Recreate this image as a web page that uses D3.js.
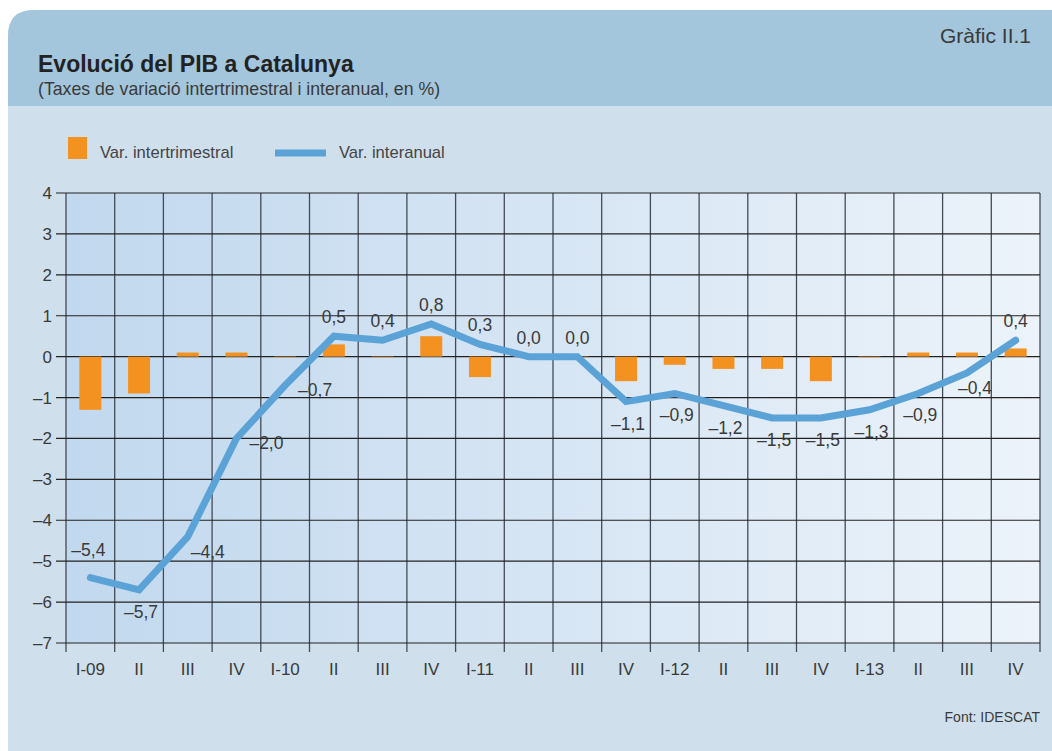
<!DOCTYPE html>
<html>
<head>
<meta charset="utf-8">
<script src="https://cdn.jsdelivr.net/npm/d3@7"></script>
<style>
  body { margin: 0; background: #fff; }
  svg { display: block; font-family: "Liberation Sans", Arial, sans-serif; }
</style>
</head>
<body>
<svg id="chart" width="1052" height="751"></svg>
<script>
// quarters shown on the x axis
const quarters = ["I-09","II","III","IV","I-10","II","III","IV","I-11","II","III","IV",
                  "I-12","II","III","IV","I-13","II","III","IV"];
// quarter on quarter change (bars)
const varIntertrimestral = [-1.3,-0.9,0.1,0.1,0.0,0.3,0.0,0.5,-0.5,0.0,0.0,-0.6,
                            -0.2,-0.3,-0.3,-0.6,0.0,0.1,0.1,0.2];
// year on year change (line)
const varInteranual = [-5.4,-5.7,-4.4,-2.0,-0.7,0.5,0.4,0.8,0.3,0.0,0.0,-1.1,
                       -0.9,-1.2,-1.5,-1.5,-1.3,-0.9,-0.4,0.4];
const yTicks = [4,3,2,1,0,-1,-2,-3,-4,-5,-6,-7];

// where each line label sits relative to its point
const labelSide = ["upfar","down","rightlow","right","right","up","up","up","up","up","up","down",
                   "down","down","down","down","down","down","downright","up"];

const svg = d3.select("#chart");
const margin = { left: 66, right: 1040, top: 193, bottom: 643 };
const textCol = "#3a3a3a";

// panel background
svg.append("path")
   .attr("d", "M8,36 Q8,10 34,10 L1052,10 L1052,751 L8,751 Z")
   .attr("fill", "#cfe0ec");
svg.append("path")
   .attr("d", "M8,106 L8,36 Q8,10 34,10 L1052,10 L1052,106 Z")
   .attr("fill", "#a3c6dc");

svg.append("text").attr("x", 1031).attr("y", 43).attr("text-anchor", "end")
   .attr("font-size", 21).attr("fill", textCol).text("Gràfic II.1");
svg.append("text").attr("x", 38).attr("y", 72)
   .attr("font-size", 23).attr("font-weight", "bold").attr("fill", "#222")
   .text("Evolució del PIB a Catalunya");
svg.append("text").attr("x", 38).attr("y", 95)
   .attr("font-size", 17.7).attr("fill", textCol)
   .text("(Taxes de variació intertrimestral i interanual, en %)");

// legend
svg.append("rect").attr("x", 68).attr("y", 137).attr("width", 19).attr("height", 22).attr("fill", "#f39220");
svg.append("text").attr("x", 100).attr("y", 158).attr("font-size", 16.6).attr("fill", "#444").text("Var. intertrimestral");
svg.append("line").attr("x1", 275).attr("x2", 326).attr("y1", 153).attr("y2", 153)
   .attr("stroke", "#5ba3d6").attr("stroke-width", 7);
svg.append("text").attr("x", 339).attr("y", 158).attr("font-size", 16.6).attr("fill", "#444").text("Var. interanual");

const x = d3.scaleBand()
            .domain(d3.range(quarters.length))
            .range([margin.left, margin.right])
            .paddingInner(0).paddingOuter(0);
const y = d3.scaleLinear().domain([-7, 4]).range([margin.bottom, margin.top]);

// plot gradient
const grad = svg.append("defs").append("linearGradient").attr("id", "bg")
                .attr("x1", "0%").attr("x2", "100%").attr("y1", "0%").attr("y2", "0%");
grad.append("stop").attr("offset", "0%").attr("stop-color", "#c1d8ee");
grad.append("stop").attr("offset", "100%").attr("stop-color", "#ecf3fa");
svg.append("rect")
   .attr("x", margin.left).attr("y", margin.top)
   .attr("width", margin.right - margin.left).attr("height", margin.bottom - margin.top)
   .attr("fill", "url(#bg)");

// vertical grid
svg.append("g").selectAll("line")
   .data(d3.range(quarters.length + 1))
   .enter().append("line")
   .attr("x1", i => i < quarters.length ? x(i) : margin.right)
   .attr("x2", i => i < quarters.length ? x(i) : margin.right)
   .attr("y1", margin.top).attr("y2", margin.bottom + 9)
   .attr("stroke", "#454b55").attr("stroke-width", 1.3);

// horizontal grid + y axis
svg.append("g").selectAll("line")
   .data(yTicks)
   .enter().append("line")
   .attr("x1", margin.left - 10).attr("x2", margin.right)
   .attr("y1", d => y(d)).attr("y2", d => y(d))
   .attr("stroke", "#222").attr("stroke-width", 1.2);

svg.append("g").selectAll("text")
   .data(yTicks)
   .enter().append("text")
   .attr("x", 52).attr("y", d => y(d) + 6)
   .attr("text-anchor", "end").attr("font-size", 17).attr("fill", textCol)
   .text(d => d < 0 ? "\u2013" + Math.abs(d) : d);

// x labels
svg.append("g").selectAll("text")
   .data(quarters)
   .enter().append("text")
   .attr("x", (d, i) => x(i) + x.bandwidth() / 2)
   .attr("y", 675)
   .attr("text-anchor", "middle").attr("font-size", 17).attr("fill", textCol)
   .text(d => d);

// bars
const bw = 22;
svg.append("g").selectAll("rect")
   .data(varIntertrimestral)
   .enter().append("rect")
   .attr("x", (d, i) => x(i) + x.bandwidth() / 2 - bw / 2)
   .attr("y", d => y(Math.max(0, d)))
   .attr("width", bw)
   .attr("height", d => Math.max(0.6, Math.abs(y(d) - y(0))))
   .attr("fill", "#f39220");

// line
const line = d3.line()
               .x((d, i) => x(i) + x.bandwidth() / 2)
               .y(d => y(d));
svg.append("path")
   .datum(varInteranual)
   .attr("d", line)
   .attr("fill", "none")
   .attr("stroke", "#5ba3d6")
   .attr("stroke-width", 7)
   .attr("stroke-linecap", "round");

const fmt = v => (v < 0 ? "\u2013" : "") + Math.abs(v).toFixed(1).replace(".", ",");
const off = {
  up: [0, -13], upfar: [-2, -22], down: [2, 28], right: [30, 11], rightlow: [20, 21], downright: [8, 21]
};
svg.append("g").selectAll("text")
   .data(varInteranual)
   .enter().append("text")
   .attr("x", (d, i) => x(i) + x.bandwidth() / 2 + off[labelSide[i]][0])
   .attr("y", (d, i) => y(d) + off[labelSide[i]][1])
   .attr("text-anchor", "middle").attr("font-size", 17.5).attr("fill", textCol)
   .text(d => fmt(d));

svg.append("text").attr("x", 1040).attr("y", 722).attr("text-anchor", "end")
   .attr("font-size", 14).attr("fill", textCol).text("Font: IDESCAT");
</script>
</body>
</html>
